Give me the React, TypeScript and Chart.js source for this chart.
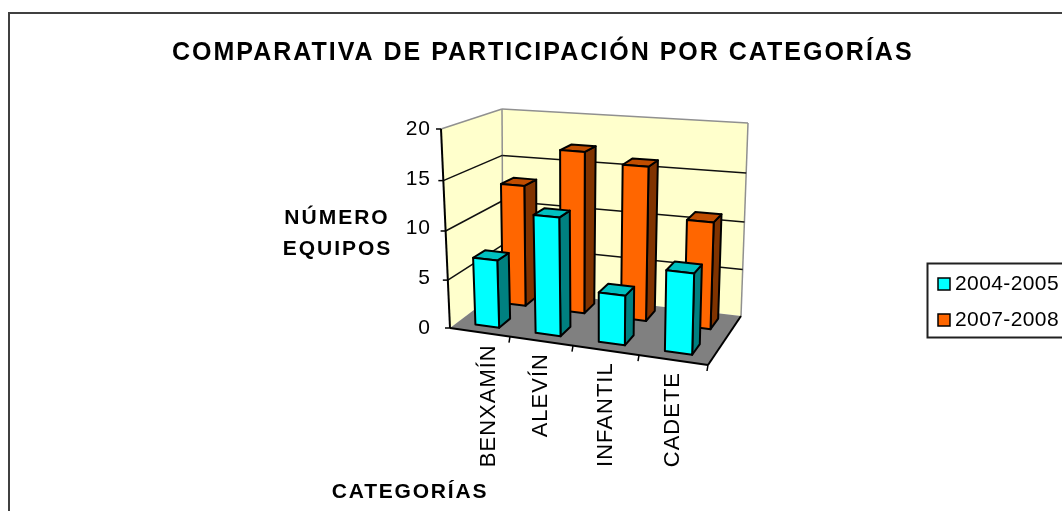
import React, { useEffect, useRef } from "react";
import { Chart, registerables } from "chart.js";

Chart.register(...registerables);

const titleText = "COMPARATIVA DE PARTICIPACIÓN POR CATEGORÍAS";
const categories = ["BENXAMÍN", "ALEVÍN", "INFANTIL", "CADETE"];
const seriesNames = ["2004-2005", "2007-2008"];
const values2004 = [7, 12, 5, 8];
const values2007 = [13, 17, 16, 11];
const yAxisLines = ["NÚMERO", "EQUIPOS"];
const xAxisTitle = "CATEGORÍAS";

type P = [number, number];
const FBL: P = [450, 328], FBR: P = [708, 365], BBL: P = [503, 288], BBR: P = [741, 316];
const FTL: P = [441, 129], FTR: P = [714, 151], BTL: P = [502, 109], BTR: P = [748, 123];
const lerp = (a: P, b: P, t: number): P => [a[0] + (b[0] - a[0]) * t, a[1] + (b[1] - a[1]) * t];

function project(u: number, d: number, v: number): P {
  const w = 0.907 * u + 0.093 * u * u;
  const h = v * (0.95 + 0.05 * v);
  const bottom = lerp(lerp(FBL, FBR, w), lerp(BBL, BBR, w), d);
  const top = lerp(lerp(FTL, FTR, w), lerp(BTL, BTR, w), d);
  return lerp(bottom, top, h);
}

function poly(ctx: CanvasRenderingContext2D, pts: P[], fill: string | null, stroke: string | null, lw = 1.5) {
  ctx.beginPath();
  pts.forEach((p, i) => (i ? ctx.lineTo(p[0], p[1]) : ctx.moveTo(p[0], p[1])));
  ctx.closePath();
  if (fill) { ctx.fillStyle = fill; ctx.fill(); }
  if (stroke) { ctx.strokeStyle = stroke; ctx.lineWidth = lw; ctx.stroke(); }
}
function line(ctx: CanvasRenderingContext2D, a: P, b: P, color: string, lw = 1.5) {
  ctx.beginPath(); ctx.moveTo(a[0], a[1]); ctx.lineTo(b[0], b[1]);
  ctx.strokeStyle = color; ctx.lineWidth = lw; ctx.stroke();
}

const faceColors = [
  { front: "#00FFFF", top: "#00C0C0", side: "#008080" },
  { front: "#FF6600", top: "#C04D00", side: "#803300" },
];
const rowDepth: P[] = [[0.15, 0.37], [0.68, 0.9]];
const labelNudge = [9, 0, 0, 0];

const scene = {
  id: "scene3d",
  beforeDraw(chart: any) {
    const ctx = chart.ctx;
    ctx.save();
    ctx.fillStyle = "#fff";
    ctx.fillRect(0, 0, chart.width, chart.height);
    ctx.strokeStyle = "#404040";
    ctx.lineWidth = 2;
    ctx.strokeRect(9, 13, 1100, 600);
    ctx.restore();
    ctx.letterSpacing = "2px"; // title
  },
  beforeDatasetsDraw(chart: any) {
    const ctx: CanvasRenderingContext2D = chart.ctx;
    const area = chart.chartArea;
    const yS = chart.scales.y;
    const xS = chart.scales.x;
    const vOf = (px: number) => (area.bottom - px) / (area.bottom - area.top);
    const uOf = (px: number) => (px - area.left) / (area.right - area.left);
    ctx.save();
    ctx.lineJoin = "round";
    // walls and floor
    poly(ctx, [FBL, FTL, BTL, BBL], "#FFFFCC", null);
    poly(ctx, [BBL, BTL, BTR, BBR], "#FFFFCC", null);
    poly(ctx, [FBL, FBR, BBR, BBL], "#808080", null);
    line(ctx, FTL, BTL, "#909090");
    line(ctx, BTL, BTR, "#909090");
    line(ctx, BTR, BBR, "#909090");
    line(ctx, BTL, BBL, "#909090");
    yS.ticks.forEach((t: any) => {
      const v = vOf(yS.getPixelForValue(t.value));
      if (v > 0.01 && v < 0.99) {
        line(ctx, project(0, 0, v), project(0, 1, v), "#101010", 1.5);
        line(ctx, project(0, 1, v), project(1, 1, v), "#101010", 1.5);
      }
      const p = project(0, 0, v);
      line(ctx, [p[0] - 5, p[1]], p, "#000");
    });
    line(ctx, FTL, FBL, "#000", 2);
    line(ctx, FBL, FBR, "#000", 2);
    line(ctx, FBR, BBR, "#000", 2);
    xS.ticks.forEach((_: any, i: number) => {
      const right = uOf(xS.getPixelForTick(i)) + 0.125;
      const p = project(right, 0, 0);
      line(ctx, p, [p[0] - 1, p[1] + 6], "#000");
    });
    // bars: back row first
    for (let ds = chart.data.datasets.length - 1; ds >= 0; ds--) {
      const meta = chart.getDatasetMeta(ds);
      const c = faceColors[ds];
      const [d0, d1] = rowDepth[ds];
      meta.data.forEach((el: any) => {
        const u0 = uOf(el.x - el.width / 2);
        const u1 = uOf(el.x + el.width / 2);
        const v = vOf(el.y);
        const k = 2;
        poly(ctx, [project(u1, d0, 0), project(u1, d1, 0), project(u1, d1, v), project(u1, d0, v)], c.side, "#000", k);
        poly(ctx, [project(u0, d0, v), project(u1, d0, v), project(u1, d1, v), project(u0, d1, v)], c.top, "#000", k);
        poly(ctx, [project(u0, d0, 0), project(u1, d0, 0), project(u1, d0, v), project(u0, d0, v)], c.front, "#000", k);
      });
    }
    ctx.restore();
    ctx.letterSpacing = "1px"; // value-axis labels are drawn after this hook
    return false;
  },
  afterDraw(chart: any) {
    const ctx: CanvasRenderingContext2D = chart.ctx;
    const area = chart.chartArea;
    const xS = chart.scales.x;
    ctx.save();
    ctx.fillStyle = "#000";
    ctx.textBaseline = "middle";
    // category labels
    ctx.font = "22px 'Liberation Sans'";
    (ctx as any).letterSpacing = "1px";
    categories.forEach((label, i) => {
      const u = (xS.getPixelForTick(i) - area.left) / (area.right - area.left);
      const p = project(u, 0, 0);
      ctx.save();
      ctx.translate(p[0] + labelNudge[i], p[1] + 12);
      ctx.rotate(-Math.PI / 2);
      ctx.textAlign = "right";
      ctx.fillText(label, 0, 0);
      ctx.restore();
    });
    // axis titles
    ctx.font = "bold 21px 'Liberation Sans'";
    ctx.textAlign = "center";
    (ctx as any).letterSpacing = "2px";
    ctx.fillText(yAxisLines[0], 337, 218);
    ctx.fillText(yAxisLines[1], 337.5, 249);
    (ctx as any).letterSpacing = "1.8px";
    ctx.fillText(xAxisTitle, 410, 492);
    // legend
    ctx.strokeStyle = "#202020";
    ctx.lineWidth = 2;
    ctx.strokeRect(927.5, 263.5, 200, 74);
    ctx.font = "21px 'Liberation Sans'";
    (ctx as any).letterSpacing = "0.4px";
    ctx.textAlign = "left";
    chart.data.datasets.forEach((ds: any, i: number) => {
      const y = 284 + 36 * i;
      ctx.fillStyle = ds.backgroundColor;
      ctx.fillRect(938, y - 6, 12, 12);
      ctx.strokeStyle = "#000";
      ctx.lineWidth = 1.5;
      ctx.strokeRect(938, y - 6, 12, 12);
      ctx.fillStyle = "#000";
      ctx.fillText(ds.label, 955, y);
    });
    ctx.restore();
  },
};

export default function App() {
  const ref = useRef<HTMLCanvasElement>(null);
  useEffect(() => {
    const chart = new Chart(ref.current!, {
      type: "bar",
      data: {
        labels: categories,
        datasets: [
          { label: seriesNames[0], data: values2004, backgroundColor: "#00FFFF" },
          { label: seriesNames[1], data: values2007, backgroundColor: "#FF6600" },
        ],
      },
      plugins: [scene],
      options: {
        responsive: false,
        animation: false,
        layout: { padding: { left: 172, right: 0, top: 0, bottom: 183 } },
        datasets: { bar: { grouped: false, categoryPercentage: 1, barPercentage: 0.4 } },
        plugins: {
          legend: { display: false },
          tooltip: { enabled: false },
          title: {
            display: true,
            text: titleText,
            align: "start",
            color: "#000",
            font: { family: "'Liberation Sans'", size: 25, weight: "bold", lineHeight: 1.2 },
            padding: { top: 38, bottom: 61 },
          },
        },
        scales: {
          x: {
            grid: { display: false, drawTicks: false },
            border: { display: false },
            ticks: { display: false },
          },
          y: {
            min: 0,
            max: 20,
            afterFit: (s: any) => { s.width = 278; },
            grid: { display: false, drawTicks: false },
            border: { display: false },
            ticks: {
              z: 1,
              stepSize: 5,
              padding: 19,
              color: "#000",
              font: { family: "'Liberation Sans'", size: 21 },
            },
          },
          // empty right-hand axis: reserves the blank band that holds the legend
          spacer: {
            type: "linear",
            position: "right",
            afterFit: (s: any) => { s.width = 354; },
            grid: { display: false, drawTicks: false },
            border: { display: false },
            ticks: { display: false },
          },
        },
      } as any,
    });
    return () => chart.destroy();
  }, []);
  return (
    <div style={{ position: "absolute", left: 0, top: 0, width: 1062, height: 511, overflow: "hidden" }}>
      <canvas ref={ref} width={1062} height={511} style={{ display: "block" }} />
    </div>
  );
}
